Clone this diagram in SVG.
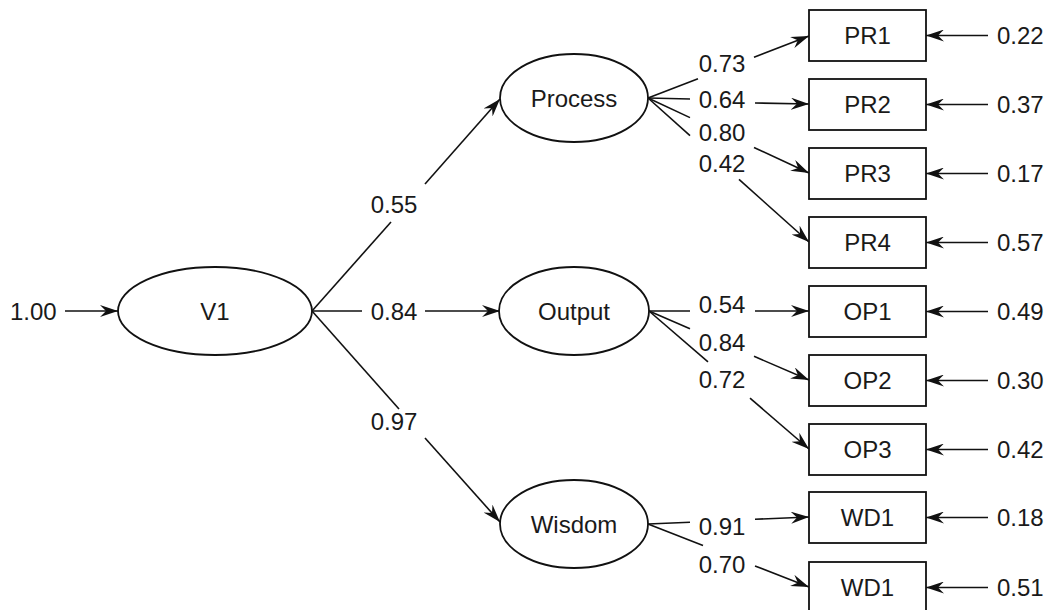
<svg xmlns="http://www.w3.org/2000/svg" width="1051" height="610" viewBox="0 0 1051 610">
<defs>
<marker id="ah" viewBox="0 0 18 12" markerWidth="18" markerHeight="12" refX="18" refY="6" orient="auto" markerUnits="userSpaceOnUse">
<path d="M0,0 L18,6 L0,12 L6,6 z" fill="#111"/>
</marker>
<style>
text{font-family:"Liberation Sans",Arial,sans-serif;font-size:24px;fill:#1a1a1a}
.c{text-anchor:middle}
.s{text-anchor:start}
.n{fill:#fff;stroke:#111;stroke-width:1.8}
.l{stroke:#111;stroke-width:1.6;fill:none}
.a{stroke:#111;stroke-width:1.6;fill:none;marker-end:url(#ah)}
</style>
</defs>
<rect width="1051" height="610" fill="#fff"/>
<g id="connectors">
<line class="a" x1="65" y1="311" x2="118" y2="311"/>
<line class="l" x1="312" y1="311" x2="391" y2="222"/><line class="a" x1="425" y1="184" x2="500" y2="99"/>
<line class="l" x1="312" y1="311" x2="362" y2="311"/><line class="a" x1="425" y1="311" x2="500" y2="311"/>
<line class="l" x1="312" y1="311" x2="399" y2="409"/><line class="a" x1="425" y1="438" x2="500" y2="522"/>
<line class="l" x1="648" y1="98" x2="698" y2="78.7"/><line class="a" x1="754" y1="57.2" x2="809" y2="36"/>
<line class="l" x1="648" y1="98" x2="690" y2="99"/><line class="a" x1="755" y1="103" x2="809" y2="104"/>
<line class="l" x1="648" y1="98" x2="690" y2="117.6"/><line class="a" x1="754" y1="147.4" x2="809" y2="173"/>
<line class="l" x1="648" y1="98" x2="690" y2="135.6"/><line class="a" x1="739" y1="179.4" x2="809" y2="242"/>
<line class="l" x1="649" y1="311" x2="690" y2="311"/><line class="a" x1="755" y1="311" x2="809" y2="311"/>
<line class="l" x1="649" y1="311" x2="690" y2="328.7"/><line class="a" x1="754" y1="356.3" x2="809" y2="380"/>
<line class="l" x1="649" y1="311" x2="708" y2="361.9"/><line class="a" x1="750" y1="398.1" x2="809" y2="449"/>
<line class="l" x1="648" y1="524" x2="690" y2="522.2"/><line class="a" x1="755" y1="519.3" x2="809" y2="517"/>
<line class="l" x1="648" y1="524" x2="703" y2="545.5"/><line class="a" x1="755" y1="565.9" x2="809" y2="587"/>
<line class="a" x1="988" y1="35.5" x2="926" y2="35.5"/>
<line class="a" x1="988" y1="104.5" x2="926" y2="104.5"/>
<line class="a" x1="988" y1="173.5" x2="926" y2="173.5"/>
<line class="a" x1="988" y1="242.5" x2="926" y2="242.5"/>
<line class="a" x1="988" y1="311.5" x2="926" y2="311.5"/>
<line class="a" x1="988" y1="380.5" x2="926" y2="380.5"/>
<line class="a" x1="988" y1="449.5" x2="926" y2="449.5"/>
<line class="a" x1="988" y1="517.5" x2="926" y2="517.5"/>
<line class="a" x1="988" y1="587.5" x2="926" y2="587.5"/>
</g>
<g id="labels">
<text class="s" x="10" y="319.5">1.00</text>
<text class="c" x="394" y="212.5">0.55</text>
<text class="c" x="394" y="319.5">0.84</text>
<text class="c" x="394" y="429.5">0.97</text>
<text class="c" x="722" y="71.5">0.73</text>
<text class="c" x="722" y="107.5">0.64</text>
<text class="c" x="722" y="140.5">0.80</text>
<text class="c" x="722" y="171.5">0.42</text>
<text class="c" x="722" y="312.5">0.54</text>
<text class="c" x="722" y="350.5">0.84</text>
<text class="c" x="722" y="387.5">0.72</text>
<text class="c" x="722" y="534.5">0.91</text>
<text class="c" x="722" y="572.5">0.70</text>
<text class="s" x="997" y="44">0.22</text>
<text class="s" x="997" y="113">0.37</text>
<text class="s" x="997" y="182">0.17</text>
<text class="s" x="997" y="251">0.57</text>
<text class="s" x="997" y="320">0.49</text>
<text class="s" x="997" y="389">0.30</text>
<text class="s" x="997" y="458">0.42</text>
<text class="s" x="997" y="526">0.18</text>
<text class="s" x="997" y="596">0.51</text>
</g>
<g id="V1"><ellipse class="n" cx="215" cy="311" rx="97" ry="44"/><text class="c" x="215" y="319.5">V1</text></g>
<g id="Process"><ellipse class="n" cx="574" cy="98" rx="74" ry="44"/><text class="c" x="574" y="106.5">Process</text></g>
<g id="Output"><ellipse class="n" cx="574" cy="311" rx="75" ry="44"/><text class="c" x="574" y="319.5">Output</text></g>
<g id="Wisdom"><ellipse class="n" cx="574" cy="524" rx="74" ry="44"/><text class="c" x="574" y="532.5">Wisdom</text></g>
<g id="PR1"><rect class="n" x="809" y="10" width="117" height="51"/><text class="c" x="867.5" y="44">PR1</text></g>
<g id="PR2"><rect class="n" x="809" y="79" width="117" height="51"/><text class="c" x="867.5" y="113">PR2</text></g>
<g id="PR3"><rect class="n" x="809" y="148" width="117" height="51"/><text class="c" x="867.5" y="182">PR3</text></g>
<g id="PR4"><rect class="n" x="809" y="217" width="117" height="51"/><text class="c" x="867.5" y="251">PR4</text></g>
<g id="OP1"><rect class="n" x="809" y="286" width="117" height="51"/><text class="c" x="867.5" y="320">OP1</text></g>
<g id="OP2"><rect class="n" x="809" y="355" width="117" height="51"/><text class="c" x="867.5" y="389">OP2</text></g>
<g id="OP3"><rect class="n" x="809" y="424" width="117" height="51"/><text class="c" x="867.5" y="458">OP3</text></g>
<g id="WD1a"><rect class="n" x="809" y="492" width="117" height="51"/><text class="c" x="867.5" y="526">WD1</text></g>
<g id="WD1b"><rect class="n" x="809" y="562" width="117" height="51"/><text class="c" x="867.5" y="596">WD1</text></g>
</svg>
